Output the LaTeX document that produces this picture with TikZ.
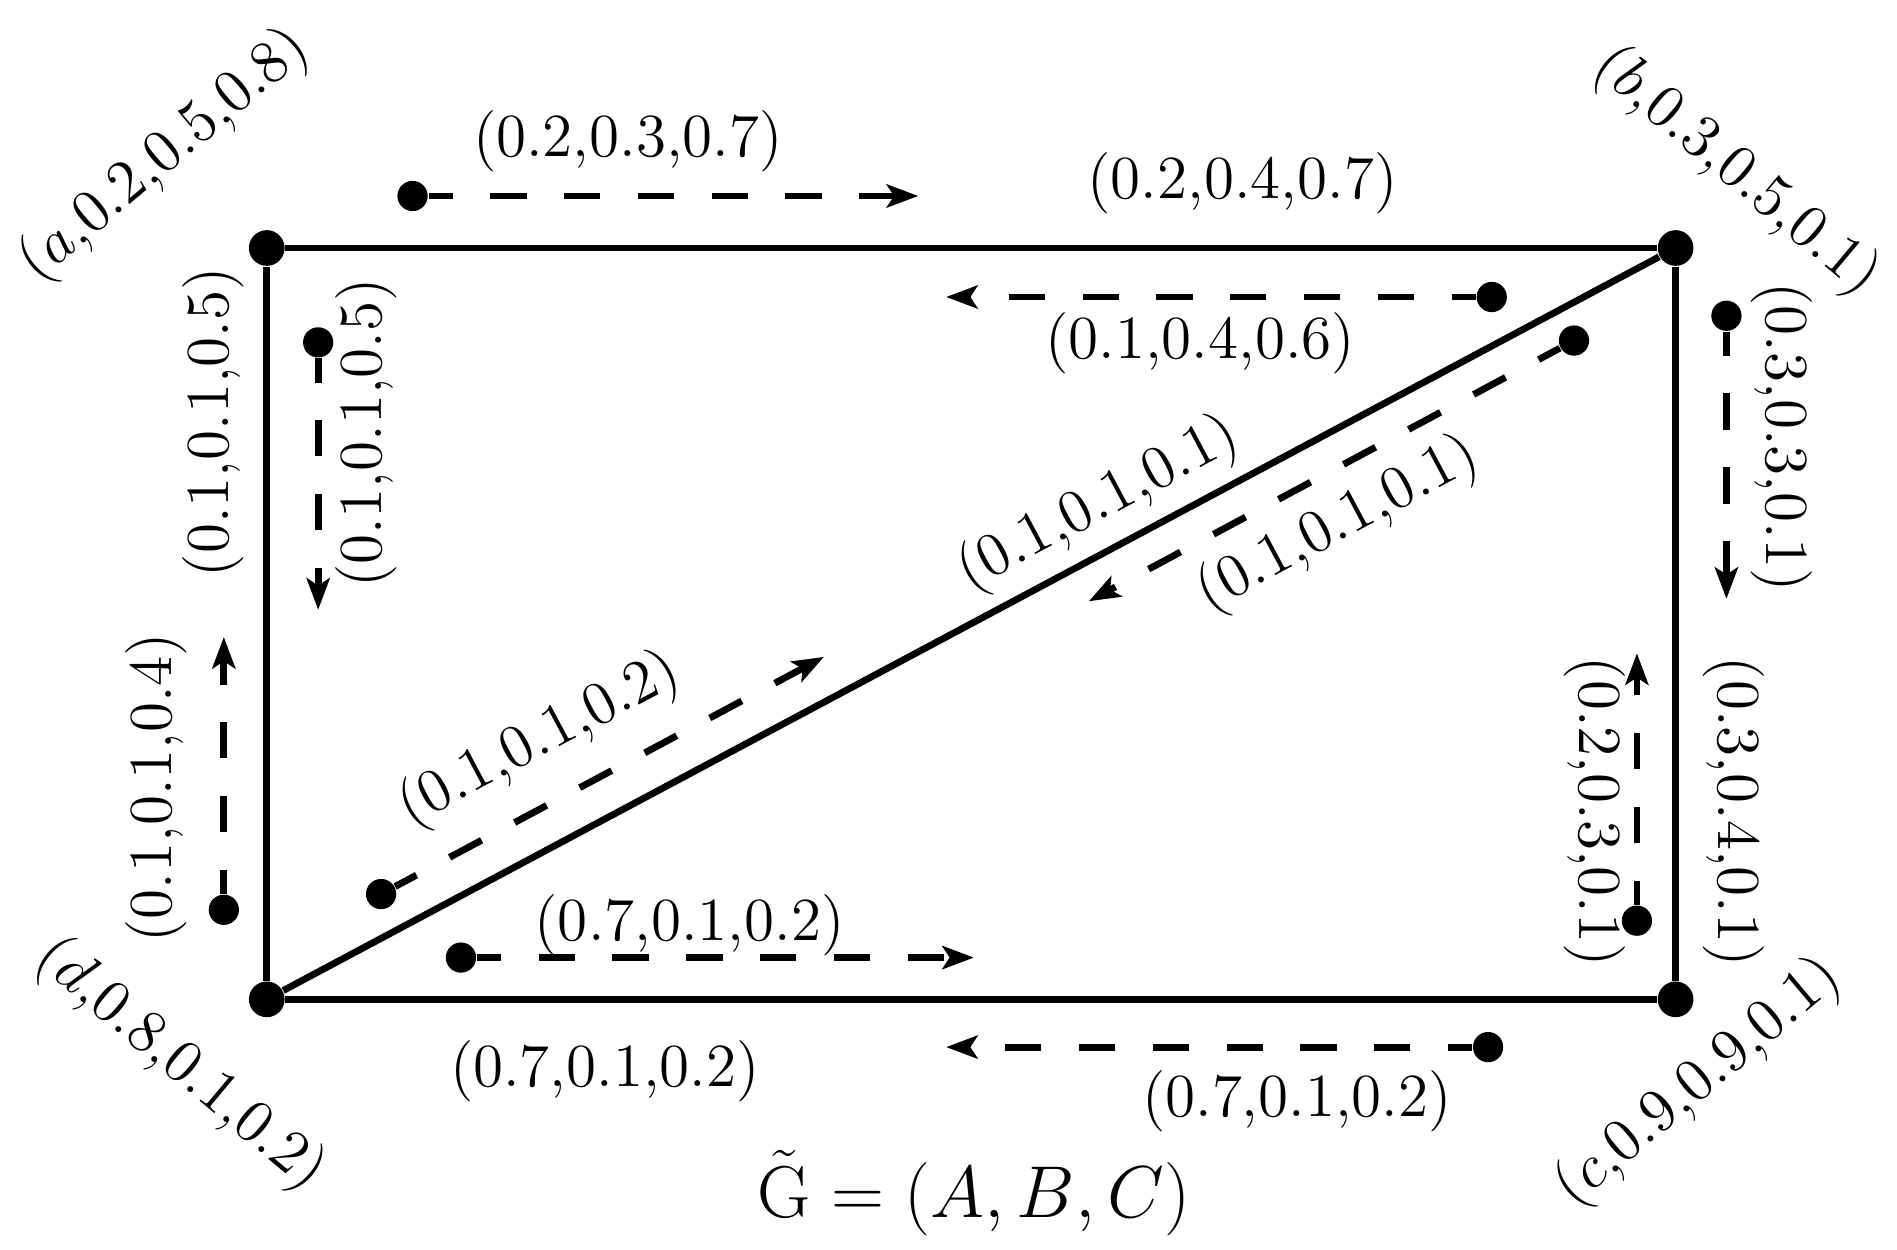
\documentclass[tikz,border=0pt]{standalone}
\usepackage{amsmath,amsfonts,amssymb}
\usetikzlibrary{arrows.meta}

\tikzset{
	vertex/.style={shape=circle,fill=black,inner sep=0pt,minimum size=0.295cm},
	tail/.style={shape=circle,fill=black,inner sep=0pt,minimum size=0.25cm},
	lbl/.style={inner sep=0pt,font=\fontsize{13.8}{16}\selectfont},
	link/.style={line width=1.6pt},
	flow/.style={line width=1.6pt,dash pattern=on 0.3cm off 0.31cm,dash phase=0.1cm,-{Stealth[length=0.26cm,width=0.19cm,inset=0.06cm]}}
}

\begin{document}
\begin{tikzpicture}
				\useasboundingbox (0,0) rectangle (15.68,10.33);
				\node[vertex] (a) at (2.205,8.28) {};
				\node[vertex] (b) at (13.85,8.28) {};
				\node[vertex] (c) at (13.85,2.07) {};
				\node[vertex] (d) at (2.205,2.07) {};
				
				\path [link] (a) edge (b);
				\path [link] (b) edge (c);
				\path [link] (c) edge (d);
				\path [link] (d) edge (a);
				\path [link] (d) edge (b);
				
				\node[lbl, rotate=40] (la) at (1.36,9.04) {$(a{,}0.2{,}0.5{,}0.8)$};
				\node[lbl, rotate=-40] (lb) at (14.35,8.91) {$(b{,}0.3{,}0.5{,}0.1)$};
				\node[lbl, rotate=40] (lc) at (14.04,1.38) {$(c{,}0.9{,}0.9{,}0.1)$};
				\node[lbl, rotate=-40] (ld) at (1.49,1.53) {$(d{,}0.8{,}0.1{,}0.2)$};
				
				\node[lbl] (l-ab) at (10.27,8.815) {$(0.2{,}0.4{,}0.7)$};
				\node[lbl, rotate=90] (l-ad) at (1.765,6.84) {$(0.1{,}0.1{,}0.5)$};
				\node[lbl, rotate=28.07] (l-db) at (9.08,6.16) {$(0.1{,}0.1{,}0.1)$};
				\node[lbl, rotate=-90] (l-bc) at (14.33,3.62) {$(0.3{,}0.4{,}0.1)$};
				\node[lbl] (l-dc) at (5.00,1.475) {$(0.7{,}0.1{,}0.2)$};
				
				\node[tail] (s-ab) at (3.41,8.71) {};
				\coordinate (t-ab) at (7.59,8.71);
				\node[tail] (s-ba) at (12.33,7.875) {};
				\coordinate (t-ba) at (7.82,7.875);
				\node[tail] (s-ad) at (2.63,7.50) {};
				\coordinate (t-ad) at (2.63,5.29);
				\node[tail] (s-da) at (1.85,2.81) {};
				\coordinate (t-da) at (1.85,5.065);
				\node[tail] (s-db) at (3.15,2.94) {};
				\coordinate (t-db) at (6.81,4.90);
				\node[tail] (s-bd) at (13.01,7.515) {};
				\coordinate (t-bd) at (9.00,5.36);
				\node[tail] (s-bc) at (14.27,7.72) {};
				\coordinate (t-bc) at (14.27,5.38);
				\node[tail] (s-cb) at (13.53,2.72) {};
				\coordinate (t-cb) at (13.53,4.93);
				\node[tail] (s-dc) at (3.81,2.415) {};
				\coordinate (t-dc) at (8.05,2.415);
				\node[tail] (s-cd) at (12.30,1.675) {};
				\coordinate (t-cd) at (7.82,1.675);
				
				\path [flow] (s-ab) edge (t-ab);
				\path [flow] (s-ba) edge (t-ba);
				\path [flow] (s-ad) edge (t-ad);
				\path [flow] (s-da) edge (t-da);
				\path [flow] (s-db) edge (t-db);
				\path [flow] (s-bd) edge (t-bd);
				\path [flow] (s-bc) edge (t-bc);
				\path [flow] (s-cb) edge (t-cb);
				\path [flow] (s-dc) edge (t-dc);
				\path [flow] (s-cd) edge (t-cd);
				
				\node[lbl] (f-ab) at (5.19,9.16) {$(0.2{,}0.3{,}0.7)$};
				\node[lbl] (f-ba) at (9.92,7.49) {$(0.1{,}0.4{,}0.6)$};
				\node[lbl, rotate=90] (f-ad) at (3.03,6.75) {$(0.1{,}0.1{,}0.5)$};
				\node[lbl, rotate=90] (f-da) at (1.29,3.82) {$(0.1{,}0.1{,}0.4)$};
				\node[lbl, rotate=28.07] (f-db) at (4.46,4.21) {$(0.1{,}0.1{,}0.2)$};
				\node[lbl, rotate=28.07] (f-bd) at (11.06,5.99) {$(0.1{,}0.1{,}0.1)$};
				\node[lbl, rotate=-90] (f-bc) at (14.73,6.715) {$(0.3{,}0.3{,}0.1)$};
				\node[lbl, rotate=-90] (f-cb) at (13.18,3.62) {$(0.2{,}0.3{,}0.1)$};
				\node[lbl] (f-dc) at (5.70,2.68) {$(0.7{,}0.1{,}0.2)$};
				\node[lbl] (f-cd) at (10.72,1.23) {$(0.7{,}0.1{,}0.2)$};
				
				\node[inner sep=0pt,font=\fontsize{18.8}{22}\selectfont] (title) at (8.05,0.47) {$\tilde{\mathrm{G}}=(A,B,C)$};
			\end{tikzpicture}
\end{document}
